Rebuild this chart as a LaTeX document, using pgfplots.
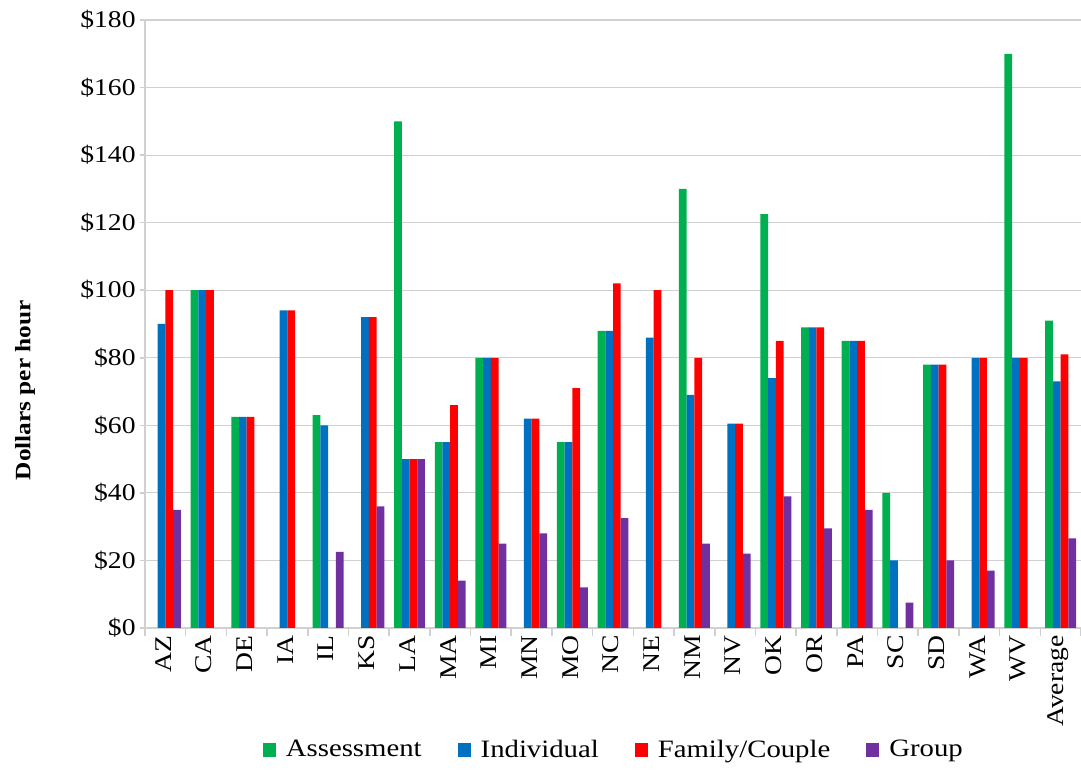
\documentclass[border=0pt]{standalone}
\usepackage{fontspec}
\setmainfont{Liberation Serif}[FakeStretch=1.15]
\usepackage{pgfplots}
\pgfplotsset{compat=1.18}
\definecolor{cAss}{HTML}{00B050}
\definecolor{cInd}{HTML}{0070C0}
\definecolor{cFam}{HTML}{FF0000}
\definecolor{cGrp}{HTML}{7030A0}
\definecolor{gridc}{HTML}{D0D0D0}
\begin{document}
\begin{tikzpicture}
\useasboundingbox (-72.5pt,-71pt) rectangle (468pt,314pt);
\begin{axis}[
  at={(0,0)}, anchor=south west,
  scale only axis, width=468pt, height=304pt,
  ybar=0pt, bar width=0.19,
  xmin=-0.5, xmax=22.5, ymin=0, ymax=180,
  enlarge x limits=false,
  axis x line*=bottom, axis y line*=left,
  axis line style={gridc, line width=0.8pt},
  xtick={0,...,22},
  xticklabels={AZ,CA,DE,IA,IL,KS,LA,MA,MI,MN,MO,NC,NE,NM,NV,OK,OR,PA,SC,SD,WA,WV,Average},
  major x tick style={draw=none},
  minor xtick={-0.5,0.5,...,22.5},
  minor x tick style={gridc, line width=0.8pt},
  minor tick length=4pt,
  tick align=outside,
  ytick={0,20,...,180},
  yticklabels={\$0,\$20,\$40,\$60,\$80,\$100,\$120,\$140,\$160,\$180},
  major y tick style={gridc, line width=0.8pt},
  major tick length=2.5pt,
  ymajorgrids, grid style={gridc, line width=0.6pt},
  tick label style={font=\fontsize{12}{13}\selectfont, black},
  xticklabel style={rotate=90, anchor=east, inner sep=1pt, yshift=1pt},
  yticklabel style={inner sep=2pt},
  ylabel={\bfseries Dollars per hour},
  ylabel style={font=\fontsize{11}{13}\selectfont, at={(axis description cs:-0.128,0.391)}, anchor=center},
  legend style={at={(axis description cs:0.502,-0.2007)}, anchor=center, draw=none, fill=none,
    font=\fontsize{12.5}{14}\selectfont, legend columns=4,
    /tikz/every odd column/.append style={column sep=3pt},
    /tikz/every even column/.append style={column sep=16pt}},
  legend image code/.code={\fill[#1] (0pt,-3.5pt) rectangle (6.5pt,3.5pt);},
]
\addplot[fill=cAss, draw=none] coordinates {(1,100) (2,62.5) (4,63) (6,150) (7,55) (8,80) (10,55) (11,88) (13,130) (15,122.5) (16,89) (17,85) (18,40) (19,78) (21,170) (22,91)};
\addplot[fill=cInd, draw=none] coordinates {(0,90) (1,100) (2,62.5) (3,94) (4,60) (5,92) (6,50) (7,55) (8,80) (9,62) (10,55) (11,88) (12,86) (13,69) (14,60.5) (15,74) (16,89) (17,85) (18,20) (19,78) (20,80) (21,80) (22,73)};
\addplot[fill=cFam, draw=none] coordinates {(0,100) (1,100) (2,62.5) (3,94) (5,92) (6,50) (7,66) (8,80) (9,62) (10,71) (11,102) (12,100) (13,80) (14,60.5) (15,85) (16,89) (17,85) (19,78) (20,80) (21,80) (22,81)};
\addplot[fill=cGrp, draw=none] coordinates {(0,35) (4,22.5) (5,36) (6,50) (7,14) (8,25) (9,28) (10,12) (11,32.5) (13,25) (14,22) (15,39) (16,29.5) (17,35) (18,7.5) (19,20) (20,17) (22,26.5)};
\legend{Assessment,Individual,Family/Couple,Group}
\end{axis}
\end{tikzpicture}
\end{document}
